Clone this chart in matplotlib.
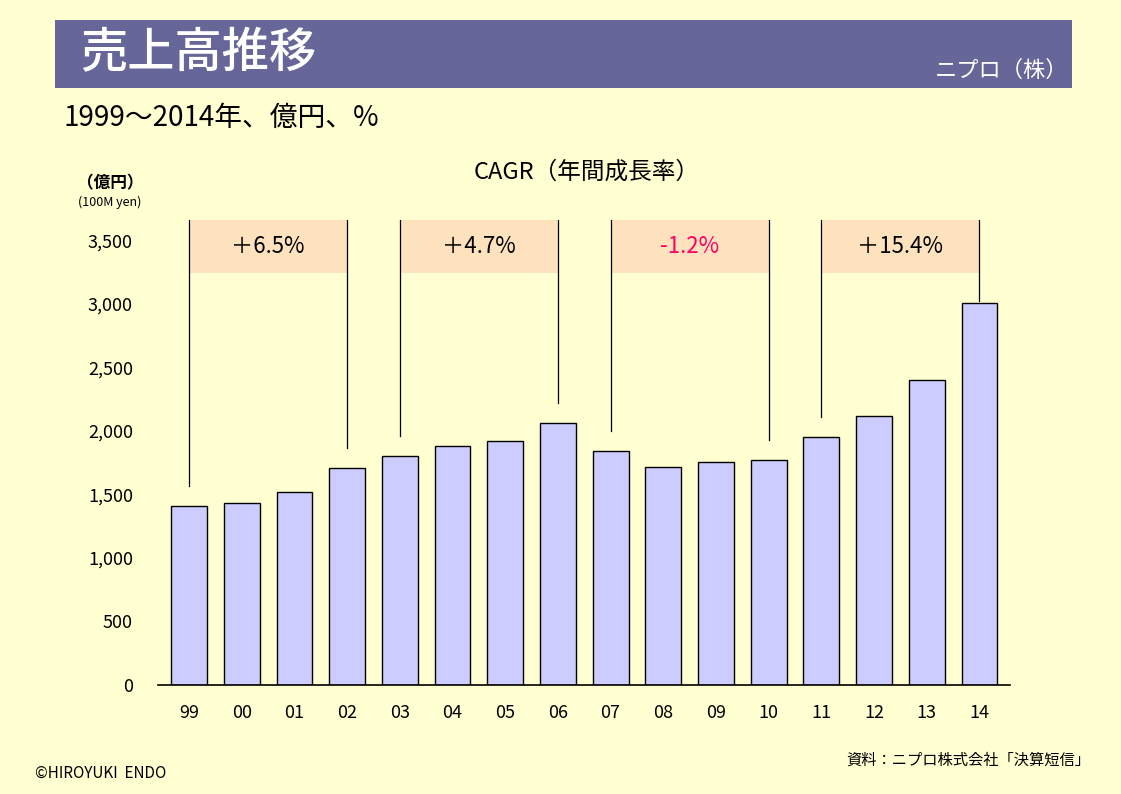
import matplotlib.pyplot as plt
import matplotlib.patches as patches

plt.rcParams['font.family'] = ['Noto Sans CJK JP', 'DejaVu Sans']

# data (億円)
years = ['99', '00', '01', '02', '03', '04', '05', '06',
         '07', '08', '09', '10', '11', '12', '13', '14']
sales = [1408, 1431, 1518, 1707, 1801, 1880, 1919, 2061,
         1840, 1715, 1754, 1770, 1951, 2116, 2399, 3004]

# CAGR periods: (start index, end index, label)
cagr_start = [0, 4, 8, 12]
cagr_end = [3, 7, 11, 15]
cagr_labels = ['＋6.5%', '＋4.7%', '-1.2%', '＋15.4%']
cagr_colors = ['black', 'black', '#ff0066', 'black']

yticks = [0, 500, 1000, 1500, 2000, 2500, 3000, 3500]

BG = '#ffffd2'
W, H = 1121, 794

fig = plt.figure(figsize=(W / 100, H / 100), dpi=100, facecolor=BG)


def px(x, y):
    # pixel coords (from top-left) -> figure fraction
    return x / W, 1 - y / H


# header band
fig.patches.append(patches.Rectangle(px(55, 88), (1072 - 55) / W, 68 / H,
                                     transform=fig.transFigure,
                                     facecolor='#666699', edgecolor='none'))
fig.text(*px(80, 54), '売上高推移', color='white', fontsize=34,
         fontweight='medium', va='center', ha='left')
fig.text(*px(1068, 70), 'ニプロ（株）', color='white', fontsize=16,
         va='center', ha='right')
fig.text(*px(64, 118), '1999～2014年、億円、%', fontsize=20,
         va='center', ha='left')

# axes
ax = fig.add_axes([158 / W, 109 / H, 852 / W, 465 / H])
ax.set_facecolor(BG)
x = list(range(len(years)))
ax.bar(x, sales, width=0.68, color='#ccccff', edgecolor='black', linewidth=1)

box_bottom, box_top = 3240, 3660
for s, e, lab, c in zip(cagr_start, cagr_end, cagr_labels, cagr_colors):
    ax.add_patch(patches.Rectangle((s, box_bottom), e - s, box_top - box_bottom,
                                   facecolor='#fde2bd', edgecolor='none', zorder=1))
    for i in (s, e):
        gap = 20 if i == len(sales) - 1 else 160
        ax.plot([i, i], [sales[i] + gap, box_top], color='black', lw=0.9, zorder=3)
    ax.text((s + e) / 2, (box_bottom + box_top) / 2, lab, color=c,
            fontsize=16, ha='center', va='center', zorder=4)

ax.set_xlim(-0.59, 15.58)
ax.set_ylim(0, 3660)
ax.set_xticks(x)
ax.set_xticklabels(years, fontsize=13)
ax.set_yticks(yticks)
ax.set_yticklabels([f'{v:,}' for v in yticks], fontsize=13)
ax.tick_params(axis='both', length=0)
ax.tick_params(axis='x', pad=14)
ax.tick_params(axis='y', pad=18)
for side in ('top', 'right', 'left'):
    ax.spines[side].set_visible(False)
ax.spines['bottom'].set_linewidth(1.2)

fig.text(*px(587, 172), 'CAGR（年間成長率）', fontsize=17, ha='center', va='center')
fig.text(*px(110, 183), '（億円）', fontsize=12, fontweight='bold', ha='center', va='center')
fig.text(*px(110, 202), '(100M yen)', fontsize=9, ha='center', va='center')

fig.text(*px(1090, 760), '資料：ニプロ株式会社「決算短信」', fontsize=11,
         ha='right', va='center')
fig.text(*px(35, 773), '©HIROYUKI  ENDO', fontsize=11, style='italic',
         ha='left', va='center')

plt.savefig('out.png', dpi=100, facecolor=BG)
plt.close()
